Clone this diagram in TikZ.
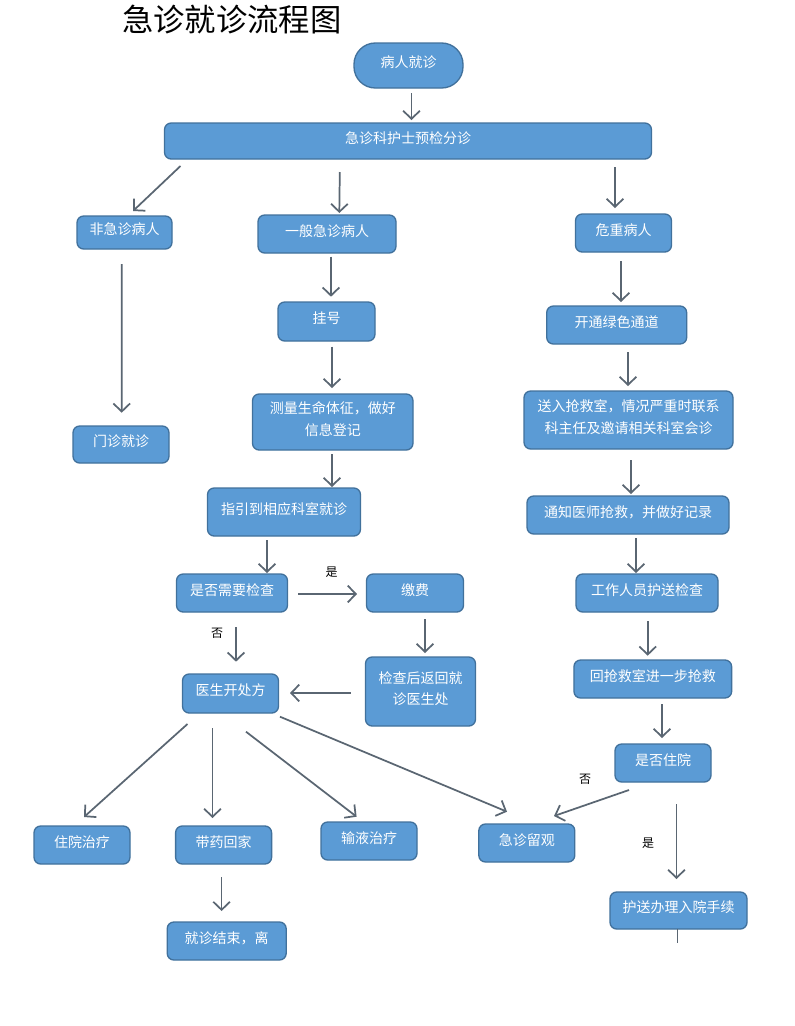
\documentclass[tikz,border=0pt]{standalone}
\usepackage{fontspec}
\newfontfamily\cjk{Noto Sans CJK SC}
\usetikzlibrary{arrows.meta}
\definecolor{boxfill}{HTML}{5B9BD5}
\definecolor{boxline}{HTML}{41719C}
\definecolor{linec}{HTML}{5A6672}
\newcommand\B[7][]{\node[box,minimum width=#5*0.75pt,minimum height=#6*0.75pt,#1] (#2) at (#3,#4) {};
  \node[boxtext] (#2-t) at ([shift={(0,-3)}]#2.center) {#7};}
\begin{document}
\begin{tikzpicture}[x=0.75pt,y=-0.75pt,
  box/.style={draw=boxline,line width=1pt,fill=boxfill,rounded corners=5pt,inner sep=0pt,outer sep=0pt},
  boxtext/.style={text=white,font=\cjk\fontsize{10.5pt}{16pt}\selectfont,align=center,inner sep=0pt},
  arr/.style={draw=linec,line width=1.3pt,-{Straight Barb[length=6pt,width=12.5pt]}},
  plain/.style={draw=linec,line width=1.3pt},
  lbl/.style={font=\cjk\fontsize{9pt}{11pt}\selectfont,text=black,inner sep=0pt}]
\useasboundingbox[fill=white] (0,0) rectangle (794,1026);
\node[font=\cjk\fontsize{23.5pt}{28pt}\selectfont,inner sep=0pt] (title) at (232,20) {急诊就诊流程图};
\B[rounded corners=16pt]{start}{408.5}{65.5}{109}{45}{病人就诊}
\B{triage}{408}{141}{487}{36}{急诊科护士预检分诊}
\B{nonemg}{124.5}{232.5}{95}{33}{非急诊病人}
\B{general}{327}{234}{138}{38}{一般急诊病人}
\B{critical}{623.5}{233}{96}{38}{危重病人}
\B{outpatient}{121}{444.5}{96}{37}{门诊就诊}
\B{register}{326.5}{321.5}{97}{39}{挂号}
\B{measure}{332.75}{422}{160.5}{56}{测量生命体征，做好\\信息登记}
\B{guide}{284}{512}{153}{48}{指引到相应科室就诊}
\B{needcheck}{232}{593}{111}{38}{是否需要检查}
\B{pay}{415}{593}{97}{38}{缴费}
\B{back}{420.5}{691.5}{110}{69}{检查后返回就\\诊医生处}
\B{prescribe}{230.5}{693.5}{96}{39}{医生开处方}
\B{inpatient}{82}{845}{96}{38}{住院治疗}
\B{takemed}{223.6}{845}{96}{38}{带药回家}
\B{infusion}{369}{841}{96}{38}{输液治疗}
\B{observe}{526.8}{843}{96}{38}{急诊留观}
\B{endv}{226.7}{941}{119}{38}{就诊结束，离}
\B{green}{616.7}{325}{140}{38}{开通绿色通道}
\B{rescue}{628.5}{420}{209}{58}{送入抢救室，情况严重时联系\\科主任及邀请相关科室会诊}
\B{notify}{628}{515}{202}{38}{通知医师抢救，并做好记录}
\B{escort}{647}{593}{142}{38}{工作人员护送检查}
\B{backrescue}{652.8}{679}{157.7}{38}{回抢救室进一步抢救}
\B{admitq}{663}{763}{96}{38}{是否住院}
\B{admitproc}{678.5}{910.5}{137}{37}{护送办理入院手续}
\coordinate (tail) at (677.5,943);
% connectors
\draw[arr] ([shift={(3,5)}]start.south) -- ([shift={(3.5,-3)}]triage.north);
\draw[arr] ([shift={(16,7)}]triage.south west) -- ([shift={(8.5,-5)}]nonemg.north);
\draw[arr] ([shift={(175.3,13)}]triage.south west) -- ([shift={(12.3,-2)}]general.north);
\draw[arr] ([shift={(-36.5,8)}]triage.south east) -- ([shift={(-8.5,-6)}]critical.north);
\draw[arr] ([shift={(-2.8,15)}]nonemg.south) -- ([shift={(0.7,-13.3)}]outpatient.north);
\draw[arr] ([shift={(4,3.7)}]general.south) -- ([shift={(4.5,-5.3)}]register.north);
\draw[arr] ([shift={(5.5,5.7)}]register.south) -- ([shift={(-0.75,-6)}]measure.north);
\draw[arr] ([shift={(-0.75,4)}]measure.south) -- ([shift={(48,-1)}]guide.north);
\draw[arr] ([shift={(-17,4)}]guide.south) -- ([shift={(35,-1)}]needcheck.north);
\draw[arr] ([shift={(10.5,1)}]needcheck.east) -- ([shift={(-9.5,1)}]pay.west);
\draw[arr] ([shift={(10,7)}]pay.south) -- ([shift={(4.5,-4)}]back.north);
\draw[arr] ([shift={(4,15)}]needcheck.south) -- ([shift={(5.5,-12.3)}]prescribe.north);
\draw[arr] ([shift={(-14.8,1.5)}]back.west) -- ([shift={(11.5,-0.5)}]prescribe.east);
\draw[arr] ([shift={(5,11)}]prescribe.south west) -- ([shift={(2,-9)}]inpatient.north);
\draw[arr] ([shift={(-18,15)}]prescribe.south) -- ([shift={(-11.1,-8)}]takemed.north);
\draw[arr] ([shift={(15.5,18.7)}]prescribe.south) -- ([shift={(-12.4,-5.3)}]infusion.north);
\draw[arr] ([shift={(1.5,3.7)}]prescribe.south east) -- ([shift={(-19.8,-12.3)}]observe.north);
\draw[arr] ([shift={(14,8)}]admitq.south west) -- ([shift={(-20.8,-8)}]observe.north east);
\draw[arr] ([shift={(13.5,22)}]admitq.south) -- ([shift={(-2,-13)}]admitproc.north);
\draw[arr] ([shift={(-2,13)}]takemed.south) -- ([shift={(-5.1,-11)}]endv.north);
\draw[arr] ([shift={(-2.5,9)}]critical.south) -- ([shift={(4.3,-4)}]green.north);
\draw[arr] ([shift={(11.3,8)}]green.south) -- ([shift={(-0.5,-5)}]rescue.north);
\draw[arr] ([shift={(2.5,11)}]rescue.south) -- ([shift={(3,-2)}]notify.north);
\draw[arr] ([shift={(8,4)}]notify.south) -- ([shift={(-11,-1)}]escort.north);
\draw[arr] ([shift={(0.7,9)}]escort.south) -- ([shift={(-5.1,-4.3)}]backrescue.north);
\draw[arr] ([shift={(9.2,6)}]backrescue.south) -- ([shift={(-1,-6)}]admitq.north);
\draw[plain] ([shift={(-1,0)}]admitproc.south) -- (tail);
% labels
\node[lbl] (yes1) at (331.7,571.7) {是};
\node[lbl] (no1) at (217,633) {否};
\node[lbl] (no2) at (585,779) {否};
\node[lbl] (yes2) at (648,842.7) {是};
\end{tikzpicture}
\end{document}
